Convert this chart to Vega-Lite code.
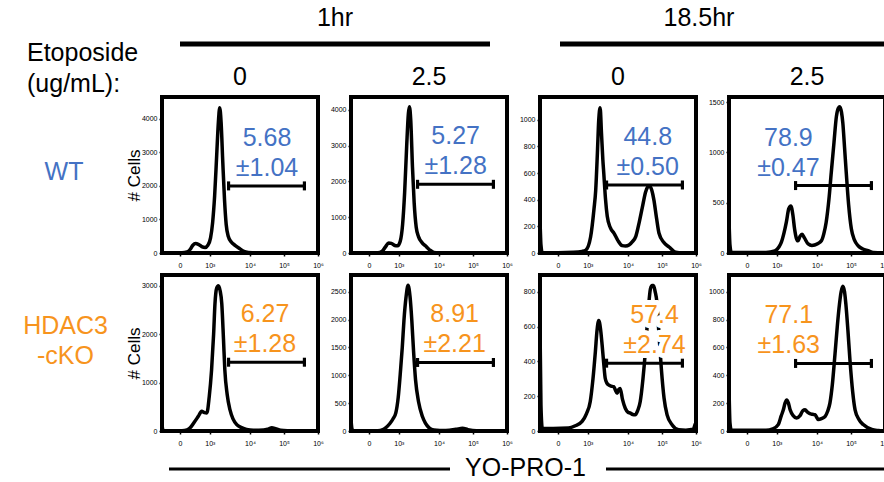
{
"$schema": "https://vega.github.io/schema/vega-lite/v6.json",
"background": "white",
"padding": {"left": 15, "top": 5, "right": 0, "bottom": 0},
"config": {
  "font": "Liberation Sans",
  "view": {"stroke": null},
  "axis": {"grid": false, "domain": false, "labelFont": "Liberation Sans", "labelFontSize": 7, "labelColor": "black", "tickColor": "black", "tickSize": 3, "tickWidth": 1.5, "titleFont": "Liberation Sans", "titleFontWeight": "normal", "titleColor": "black"},
  "title": {"font": "Liberation Sans", "fontSize": 25, "fontWeight": "normal", "color": "black"},
  "text": {"font": "Liberation Sans"}
},
"datasets": {
  "hist": [
    {"p":"p1","u":1.412,"c":0},{"p":"p1","u":2.0,"c":5},{"p":"p1","u":2.15,"c":30},{"p":"p1","u":2.25,"c":120},{"p":"p1","u":2.32,"c":230},{"p":"p1","u":2.4,"c":280},{"p":"p1","u":2.48,"c":260},{"p":"p1","u":2.58,"c":190},{"p":"p1","u":2.68,"c":165},{"p":"p1","u":2.76,"c":230},{"p":"p1","u":2.84,"c":450},{"p":"p1","u":2.9,"c":900},{"p":"p1","u":2.96,"c":1700},{"p":"p1","u":3.02,"c":2900},{"p":"p1","u":3.07,"c":3900},{"p":"p1","u":3.11,"c":4330},{"p":"p1","u":3.15,"c":3900},{"p":"p1","u":3.2,"c":2700},{"p":"p1","u":3.25,"c":1600},{"p":"p1","u":3.3,"c":850},{"p":"p1","u":3.36,"c":500},{"p":"p1","u":3.45,"c":330},{"p":"p1","u":3.56,"c":230},{"p":"p1","u":3.68,"c":140},{"p":"p1","u":3.8,"c":60},{"p":"p1","u":3.95,"c":15},{"p":"p1","u":4.2,"c":0},{"p":"p1","u":6,"c":0},
    {"p":"p2","u":1.412,"c":0},{"p":"p2","u":2.2,"c":5},{"p":"p2","u":2.33,"c":50},{"p":"p2","u":2.43,"c":180},{"p":"p2","u":2.52,"c":280},{"p":"p2","u":2.6,"c":270},{"p":"p2","u":2.7,"c":210},{"p":"p2","u":2.78,"c":200},{"p":"p2","u":2.86,"c":330},{"p":"p2","u":2.93,"c":800},{"p":"p2","u":2.99,"c":1700},{"p":"p2","u":3.05,"c":3000},{"p":"p2","u":3.1,"c":3900},{"p":"p2","u":3.13,"c":4090},{"p":"p2","u":3.17,"c":3700},{"p":"p2","u":3.22,"c":2400},{"p":"p2","u":3.27,"c":1400},{"p":"p2","u":3.33,"c":720},{"p":"p2","u":3.4,"c":450},{"p":"p2","u":3.5,"c":290},{"p":"p2","u":3.6,"c":200},{"p":"p2","u":3.72,"c":90},{"p":"p2","u":3.85,"c":15},{"p":"p2","u":4.1,"c":0},{"p":"p2","u":6,"c":0},
    {"p":"p3","u":1.415,"c":230},{"p":"p3","u":1.44,"c":60},{"p":"p3","u":1.48,"c":0},{"p":"p3","u":2.4,"c":5},{"p":"p3","u":2.65,"c":12},{"p":"p3","u":2.76,"c":22},{"p":"p3","u":2.9,"c":120},{"p":"p3","u":3.0,"c":330},{"p":"p3","u":3.05,"c":470},{"p":"p3","u":3.1,"c":750},{"p":"p3","u":3.14,"c":1000},{"p":"p3","u":3.18,"c":1090},{"p":"p3","u":3.22,"c":900},{"p":"p3","u":3.26,"c":700},{"p":"p3","u":3.29,"c":590},{"p":"p3","u":3.34,"c":400},{"p":"p3","u":3.39,"c":275},{"p":"p3","u":3.48,"c":190},{"p":"p3","u":3.59,"c":148},{"p":"p3","u":3.7,"c":95},{"p":"p3","u":3.83,"c":55},{"p":"p3","u":3.93,"c":52},{"p":"p3","u":4.03,"c":60},{"p":"p3","u":4.13,"c":85},{"p":"p3","u":4.23,"c":125},{"p":"p3","u":4.33,"c":230},{"p":"p3","u":4.42,"c":340},{"p":"p3","u":4.52,"c":460},{"p":"p3","u":4.62,"c":504},{"p":"p3","u":4.7,"c":470},{"p":"p3","u":4.76,"c":400},{"p":"p3","u":4.84,"c":260},{"p":"p3","u":4.91,"c":150},{"p":"p3","u":5.05,"c":80},{"p":"p3","u":5.21,"c":45},{"p":"p3","u":5.4,"c":5},{"p":"p3","u":5.6,"c":0},{"p":"p3","u":6,"c":0},
    {"p":"p4","u":1.415,"c":300},{"p":"p4","u":1.44,"c":80},{"p":"p4","u":1.48,"c":5},{"p":"p4","u":2.5,"c":5},{"p":"p4","u":2.76,"c":20},{"p":"p4","u":2.88,"c":60},{"p":"p4","u":2.95,"c":105},{"p":"p4","u":3.03,"c":200},{"p":"p4","u":3.1,"c":310},{"p":"p4","u":3.17,"c":440},{"p":"p4","u":3.23,"c":467},{"p":"p4","u":3.29,"c":380},{"p":"p4","u":3.34,"c":240},{"p":"p4","u":3.39,"c":150},{"p":"p4","u":3.44,"c":121},{"p":"p4","u":3.5,"c":165},{"p":"p4","u":3.56,"c":187},{"p":"p4","u":3.63,"c":150},{"p":"p4","u":3.74,"c":90},{"p":"p4","u":3.85,"c":75},{"p":"p4","u":3.93,"c":79},{"p":"p4","u":4.03,"c":95},{"p":"p4","u":4.13,"c":121},{"p":"p4","u":4.2,"c":190},{"p":"p4","u":4.27,"c":306},{"p":"p4","u":4.35,"c":530},{"p":"p4","u":4.42,"c":800},{"p":"p4","u":4.5,"c":1100},{"p":"p4","u":4.57,"c":1355},{"p":"p4","u":4.63,"c":1440},{"p":"p4","u":4.67,"c":1454},{"p":"p4","u":4.72,"c":1400},{"p":"p4","u":4.76,"c":1290},{"p":"p4","u":4.81,"c":1050},{"p":"p4","u":4.86,"c":800},{"p":"p4","u":4.93,"c":480},{"p":"p4","u":5.01,"c":240},{"p":"p4","u":5.1,"c":130},{"p":"p4","u":5.21,"c":72},{"p":"p4","u":5.35,"c":40},{"p":"p4","u":5.5,"c":23},{"p":"p4","u":5.65,"c":5},{"p":"p4","u":6,"c":0},
    {"p":"p5","u":1.415,"c":100},{"p":"p5","u":1.44,"c":20},{"p":"p5","u":1.48,"c":0},{"p":"p5","u":2.0,"c":5},{"p":"p5","u":2.15,"c":25},{"p":"p5","u":2.24,"c":65},{"p":"p5","u":2.36,"c":180},{"p":"p5","u":2.48,"c":303},{"p":"p5","u":2.58,"c":406},{"p":"p5","u":2.66,"c":380},{"p":"p5","u":2.73,"c":373},{"p":"p5","u":2.8,"c":700},{"p":"p5","u":2.87,"c":1260},{"p":"p5","u":2.93,"c":2000},{"p":"p5","u":2.97,"c":2630},{"p":"p5","u":3.02,"c":2950},{"p":"p5","u":3.07,"c":3000},{"p":"p5","u":3.12,"c":2900},{"p":"p5","u":3.17,"c":2630},{"p":"p5","u":3.22,"c":1900},{"p":"p5","u":3.26,"c":1260},{"p":"p5","u":3.33,"c":750},{"p":"p5","u":3.41,"c":440},{"p":"p5","u":3.5,"c":250},{"p":"p5","u":3.61,"c":133},{"p":"p5","u":3.75,"c":70},{"p":"p5","u":3.9,"c":30},{"p":"p5","u":4.1,"c":15},{"p":"p5","u":4.4,"c":20},{"p":"p5","u":4.55,"c":45},{"p":"p5","u":4.64,"c":65},{"p":"p5","u":4.75,"c":50},{"p":"p5","u":4.9,"c":15},{"p":"p5","u":5.1,"c":5},{"p":"p5","u":6,"c":0},
    {"p":"p6","u":1.415,"c":180},{"p":"p6","u":1.44,"c":40},{"p":"p6","u":1.48,"c":0},{"p":"p6","u":2.2,"c":5},{"p":"p6","u":2.35,"c":25},{"p":"p6","u":2.43,"c":57},{"p":"p6","u":2.55,"c":130},{"p":"p6","u":2.65,"c":220},{"p":"p6","u":2.73,"c":325},{"p":"p6","u":2.8,"c":600},{"p":"p6","u":2.87,"c":1098},{"p":"p6","u":2.92,"c":1500},{"p":"p6","u":2.97,"c":1991},{"p":"p6","u":3.03,"c":2400},{"p":"p6","u":3.09,"c":2616},{"p":"p6","u":3.15,"c":2400},{"p":"p6","u":3.2,"c":1991},{"p":"p6","u":3.25,"c":1450},{"p":"p6","u":3.31,"c":920},{"p":"p6","u":3.4,"c":520},{"p":"p6","u":3.51,"c":264},{"p":"p6","u":3.6,"c":140},{"p":"p6","u":3.71,"c":57},{"p":"p6","u":3.85,"c":20},{"p":"p6","u":4.2,"c":10},{"p":"p6","u":4.5,"c":30},{"p":"p6","u":4.69,"c":50},{"p":"p6","u":4.85,"c":25},{"p":"p6","u":5.1,"c":5},{"p":"p6","u":6,"c":0},
    {"p":"p7","u":1.415,"c":550},{"p":"p7","u":1.44,"c":150},{"p":"p7","u":1.48,"c":15},{"p":"p7","u":1.8,"c":15},{"p":"p7","u":2.25,"c":17},{"p":"p7","u":2.45,"c":30},{"p":"p7","u":2.65,"c":55},{"p":"p7","u":2.78,"c":100},{"p":"p7","u":2.89,"c":170},{"p":"p7","u":2.97,"c":300},{"p":"p7","u":3.04,"c":455},{"p":"p7","u":3.09,"c":580},{"p":"p7","u":3.14,"c":636},{"p":"p7","u":3.19,"c":590},{"p":"p7","u":3.24,"c":493},{"p":"p7","u":3.29,"c":380},{"p":"p7","u":3.33,"c":303},{"p":"p7","u":3.38,"c":275},{"p":"p7","u":3.43,"c":265},{"p":"p7","u":3.5,"c":258},{"p":"p7","u":3.58,"c":255},{"p":"p7","u":3.63,"c":235},{"p":"p7","u":3.68,"c":217},{"p":"p7","u":3.73,"c":240},{"p":"p7","u":3.77,"c":245},{"p":"p7","u":3.84,"c":180},{"p":"p7","u":3.92,"c":131},{"p":"p7","u":4.0,"c":108},{"p":"p7","u":4.07,"c":103},{"p":"p7","u":4.14,"c":95},{"p":"p7","u":4.21,"c":93},{"p":"p7","u":4.29,"c":120},{"p":"p7","u":4.36,"c":170},{"p":"p7","u":4.44,"c":300},{"p":"p7","u":4.51,"c":455},{"p":"p7","u":4.58,"c":650},{"p":"p7","u":4.66,"c":817},{"p":"p7","u":4.71,"c":836},{"p":"p7","u":4.75,"c":836},{"p":"p7","u":4.8,"c":800},{"p":"p7","u":4.85,"c":741},{"p":"p7","u":4.91,"c":560},{"p":"p7","u":4.98,"c":360},{"p":"p7","u":5.06,"c":190},{"p":"p7","u":5.15,"c":93},{"p":"p7","u":5.3,"c":35},{"p":"p7","u":5.49,"c":7},{"p":"p7","u":5.7,"c":5},{"p":"p7","u":5.92,"c":10},{"p":"p7","u":5.98,"c":40},{"p":"p7","u":6,"c":45},
    {"p":"p8","u":1.415,"c":280},{"p":"p8","u":1.44,"c":60},{"p":"p8","u":1.48,"c":5},{"p":"p8","u":2.5,"c":5},{"p":"p8","u":2.7,"c":15},{"p":"p8","u":2.86,"c":46},{"p":"p8","u":2.95,"c":110},{"p":"p8","u":3.01,"c":152},{"p":"p8","u":3.06,"c":200},{"p":"p8","u":3.11,"c":223},{"p":"p8","u":3.16,"c":200},{"p":"p8","u":3.21,"c":152},{"p":"p8","u":3.3,"c":110},{"p":"p8","u":3.4,"c":94},{"p":"p8","u":3.5,"c":110},{"p":"p8","u":3.58,"c":145},{"p":"p8","u":3.65,"c":152},{"p":"p8","u":3.72,"c":135},{"p":"p8","u":3.79,"c":124},{"p":"p8","u":3.87,"c":120},{"p":"p8","u":3.94,"c":117},{"p":"p8","u":4.04,"c":82},{"p":"p8","u":4.14,"c":90},{"p":"p8","u":4.24,"c":105},{"p":"p8","u":4.31,"c":140},{"p":"p8","u":4.38,"c":200},{"p":"p8","u":4.45,"c":330},{"p":"p8","u":4.53,"c":554},{"p":"p8","u":4.6,"c":760},{"p":"p8","u":4.66,"c":909},{"p":"p8","u":4.71,"c":1000},{"p":"p8","u":4.76,"c":1039},{"p":"p8","u":4.81,"c":1000},{"p":"p8","u":4.85,"c":909},{"p":"p8","u":4.91,"c":720},{"p":"p8","u":4.97,"c":507},{"p":"p8","u":5.05,"c":280},{"p":"p8","u":5.12,"c":152},{"p":"p8","u":5.24,"c":80},{"p":"p8","u":5.36,"c":46},{"p":"p8","u":5.61,"c":11},{"p":"p8","u":5.8,"c":3},{"p":"p8","u":6,"c":0}
  ],
  "stats": [
    {"p":"p1","pct":"5.68","sd":"±1.04","lo":3.37,"hi":5.6,"gate":2000,"at":4.5},
    {"p":"p2","pct":"5.27","sd":"±1.28","lo":3.37,"hi":5.6,"gate":1920,"at":4.49},
    {"p":"p3","pct":"44.8","sd":"±0.50","lo":3.37,"hi":5.6,"gate":510,"at":4.58},
    {"p":"p4","pct":"78.9","sd":"±0.47","lo":3.37,"hi":5.6,"gate":670,"at":3.16},
    {"p":"p5","pct":"6.27","sd":"±1.28","lo":3.37,"hi":5.6,"gate":1420,"at":4.44},
    {"p":"p6","pct":"8.91","sd":"±2.21","lo":3.37,"hi":5.6,"gate":1230,"at":4.46},
    {"p":"p7","pct":"57.4","sd":"±2.74","lo":3.37,"hi":5.6,"gate":390,"at":4.78},
    {"p":"p8","pct":"77.1","sd":"±1.63","lo":3.37,"hi":5.6,"gate":485,"at":3.17}
  ]
},
"spacing": -37,
"vconcat": [
  {"bounds": "flush", "spacing": 70, "hconcat": [
    {"width": 95, "height": 2, "view": {"fill": "transparent", "stroke": null}, "data": {"values": [{"label": "Etoposide\n(ug/mL):"}]},
     "mark": {"type": "text", "align": "left", "baseline": "middle", "fontSize": 25, "lineBreak": "\n", "lineHeight": 31, "dx": -35.5, "dy": 9, "color": "black"},
     "encoding": {"text": {"field": "label"}}},
    {"width": 310, "height": 2, "title": {"text": "1hr", "offset": 11}, "data": {"values": [{"from": 0, "to": 1}]},
     "mark": {"type": "rule", "strokeWidth": 5, "color": "black"},
     "encoding": {"x": {"field": "from", "type": "quantitative", "scale": {"domain": [0, 1]}, "axis": null}, "x2": {"field": "to"}, "y": {"datum": 0.5, "type": "quantitative", "scale": {"domain": [0, 1]}, "axis": null}}},
    {"width": 330, "height": 2, "title": {"text": "18.5hr", "offset": 11, "dx": -26}, "data": {"values": [{"from": 0, "to": 1}]},
     "mark": {"type": "rule", "strokeWidth": 5, "color": "black"},
     "encoding": {"x": {"field": "from", "type": "quantitative", "scale": {"domain": [0, 1]}, "axis": null}, "x2": {"field": "to"}, "y": {"datum": 0.5, "type": "quantitative", "scale": {"domain": [0, 1]}, "axis": null}}}
  ]},
  {"spacing": 3, "vconcat": [
    {"bounds": "flush", "spacing": 33, "hconcat": [
      {"width": 114, "height": 156, "view": {"fill": "transparent", "stroke": null}, "data": {"values": [{"label": "WT"}]},
       "mark": {"type": "text", "fontSize": 25, "color": "#4472C4", "dx": -8, "dy": -3},
       "encoding": {"text": {"field": "label"}}},
      {"width": 156, "height": 156, "view": {"stroke": "black", "strokeWidth": 4}, "title": {"text": "0", "offset": 7},
       "resolve": {"axis": {"x": "independent", "y": "independent"}},
       "layer": [
        {"data": {"name": "hist"}, "transform": [{"filter": "datum.p === 'p1'"}],
         "mark": {"type": "line", "color": "black", "strokeWidth": 3.5, "interpolate": "monotone", "strokeJoin": "round"},
         "encoding": {"x": {"field": "u", "type": "quantitative", "scale": {"domain": [1.412, 6], "nice": false}, "axis": {"values": [1.94, 2.82, 4, 5, 6], "labelExpr": "datum.value < 2 ? '0' : datum.value < 3 ? '10³' : datum.value < 4.5 ? '10⁴' : datum.value < 5.5 ? '10⁵' : '10⁶'", "labelFlush": false, "labelPadding": 5, "title": null}},
                      "y": {"field": "c", "type": "quantitative", "scale": {"domain": [0, 4650], "nice": false}, "axis": {"values": [0, 1000, 2000, 3000, 4000], "format": "d", "title": "# Cells", "titleFontSize": 17, "titlePadding": -2}}}},
        {"data": {"name": "stats"}, "transform": [{"filter": "datum.p === 'p1'"}],
         "mark": {"type": "rule", "color": "black", "strokeWidth": 3},
         "encoding": {"x": {"field": "lo", "type": "quantitative", "axis": null}, "x2": {"field": "hi"}, "y": {"field": "gate", "type": "quantitative", "axis": null}}},
        {"data": {"name": "stats"}, "transform": [{"filter": "datum.p === 'p1'"}, {"fold": ["lo", "hi"], "as": ["end", "pos"]}],
         "mark": {"type": "point", "shape": "M-0.35,-1H0.35V1H-0.35Z", "filled": true, "color": "black", "size": 81, "opacity": 1},
         "encoding": {"x": {"field": "pos", "type": "quantitative", "axis": null}, "y": {"field": "gate", "type": "quantitative", "axis": null}}},
        {"data": {"name": "stats"}, "transform": [{"filter": "datum.p === 'p1'"}],
         "mark": {"type": "text", "fontSize": 25, "color": "#4472C4", "dy": -48},
         "encoding": {"x": {"field": "at", "type": "quantitative", "axis": null}, "y": {"field": "gate", "type": "quantitative", "axis": null}, "text": {"field": "pct"}}},
        {"data": {"name": "stats"}, "transform": [{"filter": "datum.p === 'p1'"}],
         "mark": {"type": "text", "fontSize": 25, "color": "#4472C4", "dy": -18},
         "encoding": {"x": {"field": "at", "type": "quantitative", "axis": null}, "y": {"field": "gate", "type": "quantitative", "axis": null}, "text": {"field": "sd"}}}
       ]},
      {"width": 156, "height": 156, "view": {"stroke": "black", "strokeWidth": 4}, "title": {"text": "2.5", "offset": 7},
       "resolve": {"axis": {"x": "independent", "y": "independent"}},
       "layer": [
        {"data": {"name": "hist"}, "transform": [{"filter": "datum.p === 'p2'"}],
         "mark": {"type": "line", "color": "black", "strokeWidth": 3.5, "interpolate": "monotone", "strokeJoin": "round"},
         "encoding": {"x": {"field": "u", "type": "quantitative", "scale": {"domain": [1.412, 6], "nice": false}, "axis": {"values": [1.94, 2.82, 4, 5, 6], "labelExpr": "datum.value < 2 ? '0' : datum.value < 3 ? '10³' : datum.value < 4.5 ? '10⁴' : datum.value < 5.5 ? '10⁵' : '10⁶'", "labelFlush": false, "labelPadding": 5, "title": null}},
                      "y": {"field": "c", "type": "quantitative", "scale": {"domain": [0, 4360], "nice": false}, "axis": {"values": [0, 1000, 2000, 3000, 4000], "format": "d", "title": null}}}},
        {"data": {"name": "stats"}, "transform": [{"filter": "datum.p === 'p2'"}],
         "mark": {"type": "rule", "color": "black", "strokeWidth": 3},
         "encoding": {"x": {"field": "lo", "type": "quantitative", "axis": null}, "x2": {"field": "hi"}, "y": {"field": "gate", "type": "quantitative", "axis": null}}},
        {"data": {"name": "stats"}, "transform": [{"filter": "datum.p === 'p2'"}, {"fold": ["lo", "hi"], "as": ["end", "pos"]}],
         "mark": {"type": "point", "shape": "M-0.35,-1H0.35V1H-0.35Z", "filled": true, "color": "black", "size": 81, "opacity": 1},
         "encoding": {"x": {"field": "pos", "type": "quantitative", "axis": null}, "y": {"field": "gate", "type": "quantitative", "axis": null}}},
        {"data": {"name": "stats"}, "transform": [{"filter": "datum.p === 'p2'"}],
         "mark": {"type": "text", "fontSize": 25, "color": "#4472C4", "dy": -48},
         "encoding": {"x": {"field": "at", "type": "quantitative", "axis": null}, "y": {"field": "gate", "type": "quantitative", "axis": null}, "text": {"field": "pct"}}},
        {"data": {"name": "stats"}, "transform": [{"filter": "datum.p === 'p2'"}],
         "mark": {"type": "text", "fontSize": 25, "color": "#4472C4", "dy": -18},
         "encoding": {"x": {"field": "at", "type": "quantitative", "axis": null}, "y": {"field": "gate", "type": "quantitative", "axis": null}, "text": {"field": "sd"}}}
       ]},
      {"width": 156, "height": 156, "view": {"stroke": "black", "strokeWidth": 4}, "title": {"text": "0", "offset": 7},
       "resolve": {"axis": {"x": "independent", "y": "independent"}},
       "layer": [
        {"data": {"name": "hist"}, "transform": [{"filter": "datum.p === 'p3'"}],
         "mark": {"type": "line", "color": "black", "strokeWidth": 3.5, "interpolate": "monotone", "strokeJoin": "round"},
         "encoding": {"x": {"field": "u", "type": "quantitative", "scale": {"domain": [1.412, 6], "nice": false}, "axis": {"values": [1.94, 2.82, 4, 5, 6], "labelExpr": "datum.value < 2 ? '0' : datum.value < 3 ? '10³' : datum.value < 4.5 ? '10⁴' : datum.value < 5.5 ? '10⁵' : '10⁶'", "labelFlush": false, "labelPadding": 5, "title": null}},
                      "y": {"field": "c", "type": "quantitative", "scale": {"domain": [0, 1170], "nice": false}, "axis": {"values": [0, 200, 400, 600, 800, 1000], "format": "d", "title": null}}}},
        {"data": {"name": "stats"}, "transform": [{"filter": "datum.p === 'p3'"}],
         "mark": {"type": "rule", "color": "black", "strokeWidth": 3},
         "encoding": {"x": {"field": "lo", "type": "quantitative", "axis": null}, "x2": {"field": "hi"}, "y": {"field": "gate", "type": "quantitative", "axis": null}}},
        {"data": {"name": "stats"}, "transform": [{"filter": "datum.p === 'p3'"}, {"fold": ["lo", "hi"], "as": ["end", "pos"]}],
         "mark": {"type": "point", "shape": "M-0.35,-1H0.35V1H-0.35Z", "filled": true, "color": "black", "size": 81, "opacity": 1},
         "encoding": {"x": {"field": "pos", "type": "quantitative", "axis": null}, "y": {"field": "gate", "type": "quantitative", "axis": null}}},
        {"data": {"name": "stats"}, "transform": [{"filter": "datum.p === 'p3'"}],
         "mark": {"type": "text", "fontSize": 25, "color": "#4472C4", "dy": -48},
         "encoding": {"x": {"field": "at", "type": "quantitative", "axis": null}, "y": {"field": "gate", "type": "quantitative", "axis": null}, "text": {"field": "pct"}}},
        {"data": {"name": "stats"}, "transform": [{"filter": "datum.p === 'p3'"}],
         "mark": {"type": "text", "fontSize": 25, "color": "#4472C4", "dy": -18},
         "encoding": {"x": {"field": "at", "type": "quantitative", "axis": null}, "y": {"field": "gate", "type": "quantitative", "axis": null}, "text": {"field": "sd"}}}
       ]},
      {"width": 156, "height": 156, "view": {"stroke": "black", "strokeWidth": 4}, "title": {"text": "2.5", "offset": 7},
       "resolve": {"axis": {"x": "independent", "y": "independent"}},
       "layer": [
        {"data": {"name": "hist"}, "transform": [{"filter": "datum.p === 'p4'"}],
         "mark": {"type": "line", "color": "black", "strokeWidth": 3.5, "interpolate": "monotone", "strokeJoin": "round"},
         "encoding": {"x": {"field": "u", "type": "quantitative", "scale": {"domain": [1.412, 6], "nice": false}, "axis": {"values": [1.94, 2.82, 4, 5, 6], "labelExpr": "datum.value < 2 ? '0' : datum.value < 3 ? '10³' : datum.value < 4.5 ? '10⁴' : datum.value < 5.5 ? '10⁵' : '10⁶'", "labelFlush": false, "labelPadding": 5, "title": null}},
                      "y": {"field": "c", "type": "quantitative", "scale": {"domain": [0, 1550], "nice": false}, "axis": {"values": [0, 500, 1000, 1500], "format": "d", "title": null}}}},
        {"data": {"name": "stats"}, "transform": [{"filter": "datum.p === 'p4'"}],
         "mark": {"type": "rule", "color": "black", "strokeWidth": 3},
         "encoding": {"x": {"field": "lo", "type": "quantitative", "axis": null}, "x2": {"field": "hi"}, "y": {"field": "gate", "type": "quantitative", "axis": null}}},
        {"data": {"name": "stats"}, "transform": [{"filter": "datum.p === 'p4'"}, {"fold": ["lo", "hi"], "as": ["end", "pos"]}],
         "mark": {"type": "point", "shape": "M-0.35,-1H0.35V1H-0.35Z", "filled": true, "color": "black", "size": 81, "opacity": 1},
         "encoding": {"x": {"field": "pos", "type": "quantitative", "axis": null}, "y": {"field": "gate", "type": "quantitative", "axis": null}}},
        {"data": {"name": "stats"}, "transform": [{"filter": "datum.p === 'p4'"}],
         "mark": {"type": "text", "fontSize": 25, "color": "#4472C4", "dy": -48},
         "encoding": {"x": {"field": "at", "type": "quantitative", "axis": null}, "y": {"field": "gate", "type": "quantitative", "axis": null}, "text": {"field": "pct"}}},
        {"data": {"name": "stats"}, "transform": [{"filter": "datum.p === 'p4'"}],
         "mark": {"type": "text", "fontSize": 25, "color": "#4472C4", "dy": -18},
         "encoding": {"x": {"field": "at", "type": "quantitative", "axis": null}, "y": {"field": "gate", "type": "quantitative", "axis": null}, "text": {"field": "sd"}}}
       ]}
    ]},
    {"spacing": 7, "vconcat": [
      {"bounds": "flush", "spacing": 33, "hconcat": [
        {"width": 114, "height": 156, "view": {"fill": "transparent", "stroke": null}, "data": {"values": [{"label": "HDAC3\n-cKO"}]},
         "mark": {"type": "text", "fontSize": 25, "color": "#F7941D", "dx": -6.5, "dy": -27, "lineBreak": "\n", "lineHeight": 30},
         "encoding": {"text": {"field": "label"}}},
        {"width": 156, "height": 156, "view": {"stroke": "black", "strokeWidth": 4},
         "resolve": {"axis": {"x": "independent", "y": "independent"}},
         "layer": [
          {"data": {"name": "hist"}, "transform": [{"filter": "datum.p === 'p5'"}],
           "mark": {"type": "line", "color": "black", "strokeWidth": 3.5, "interpolate": "monotone", "strokeJoin": "round"},
           "encoding": {"x": {"field": "u", "type": "quantitative", "scale": {"domain": [1.412, 6], "nice": false}, "axis": {"values": [1.94, 2.82, 4, 5, 6], "labelExpr": "datum.value < 2 ? '0' : datum.value < 3 ? '10³' : datum.value < 4.5 ? '10⁴' : datum.value < 5.5 ? '10⁵' : '10⁶'", "labelFlush": false, "labelPadding": 5, "title": null}},
                        "y": {"field": "c", "type": "quantitative", "scale": {"domain": [0, 3220], "nice": false}, "axis": {"values": [0, 1000, 2000, 3000], "format": "d", "title": "# Cells", "titleFontSize": 17, "titlePadding": -2}}}},
          {"data": {"name": "stats"}, "transform": [{"filter": "datum.p === 'p5'"}],
           "mark": {"type": "rule", "color": "black", "strokeWidth": 3},
           "encoding": {"x": {"field": "lo", "type": "quantitative", "axis": null}, "x2": {"field": "hi"}, "y": {"field": "gate", "type": "quantitative", "axis": null}}},
          {"data": {"name": "stats"}, "transform": [{"filter": "datum.p === 'p5'"}, {"fold": ["lo", "hi"], "as": ["end", "pos"]}],
           "mark": {"type": "point", "shape": "M-0.35,-1H0.35V1H-0.35Z", "filled": true, "color": "black", "size": 81, "opacity": 1},
           "encoding": {"x": {"field": "pos", "type": "quantitative", "axis": null}, "y": {"field": "gate", "type": "quantitative", "axis": null}}},
          {"data": {"name": "stats"}, "transform": [{"filter": "datum.p === 'p5'"}],
           "mark": {"type": "text", "fontSize": 25, "color": "#F7941D", "dy": -48},
           "encoding": {"x": {"field": "at", "type": "quantitative", "axis": null}, "y": {"field": "gate", "type": "quantitative", "axis": null}, "text": {"field": "pct"}}},
          {"data": {"name": "stats"}, "transform": [{"filter": "datum.p === 'p5'"}],
           "mark": {"type": "text", "fontSize": 25, "color": "#F7941D", "dy": -18},
           "encoding": {"x": {"field": "at", "type": "quantitative", "axis": null}, "y": {"field": "gate", "type": "quantitative", "axis": null}, "text": {"field": "sd"}}}
         ]},
        {"width": 156, "height": 156, "view": {"stroke": "black", "strokeWidth": 4},
         "resolve": {"axis": {"x": "independent", "y": "independent"}},
         "layer": [
          {"data": {"name": "hist"}, "transform": [{"filter": "datum.p === 'p6'"}],
           "mark": {"type": "line", "color": "black", "strokeWidth": 3.5, "interpolate": "monotone", "strokeJoin": "round"},
           "encoding": {"x": {"field": "u", "type": "quantitative", "scale": {"domain": [1.412, 6], "nice": false}, "axis": {"values": [1.94, 2.82, 4, 5, 6], "labelExpr": "datum.value < 2 ? '0' : datum.value < 3 ? '10³' : datum.value < 4.5 ? '10⁴' : datum.value < 5.5 ? '10⁵' : '10⁶'", "labelFlush": false, "labelPadding": 5, "title": null}},
                        "y": {"field": "c", "type": "quantitative", "scale": {"domain": [0, 2800], "nice": false}, "axis": {"values": [0, 500, 1000, 1500, 2000, 2500], "format": "d", "title": null}}}},
          {"data": {"name": "stats"}, "transform": [{"filter": "datum.p === 'p6'"}],
           "mark": {"type": "rule", "color": "black", "strokeWidth": 3},
           "encoding": {"x": {"field": "lo", "type": "quantitative", "axis": null}, "x2": {"field": "hi"}, "y": {"field": "gate", "type": "quantitative", "axis": null}}},
          {"data": {"name": "stats"}, "transform": [{"filter": "datum.p === 'p6'"}, {"fold": ["lo", "hi"], "as": ["end", "pos"]}],
           "mark": {"type": "point", "shape": "M-0.35,-1H0.35V1H-0.35Z", "filled": true, "color": "black", "size": 81, "opacity": 1},
           "encoding": {"x": {"field": "pos", "type": "quantitative", "axis": null}, "y": {"field": "gate", "type": "quantitative", "axis": null}}},
          {"data": {"name": "stats"}, "transform": [{"filter": "datum.p === 'p6'"}],
           "mark": {"type": "text", "fontSize": 25, "color": "#F7941D", "dy": -48},
           "encoding": {"x": {"field": "at", "type": "quantitative", "axis": null}, "y": {"field": "gate", "type": "quantitative", "axis": null}, "text": {"field": "pct"}}},
          {"data": {"name": "stats"}, "transform": [{"filter": "datum.p === 'p6'"}],
           "mark": {"type": "text", "fontSize": 25, "color": "#F7941D", "dy": -18},
           "encoding": {"x": {"field": "at", "type": "quantitative", "axis": null}, "y": {"field": "gate", "type": "quantitative", "axis": null}, "text": {"field": "sd"}}}
         ]},
        {"width": 156, "height": 156, "view": {"stroke": "black", "strokeWidth": 4},
         "resolve": {"axis": {"x": "independent", "y": "independent"}},
         "layer": [
          {"data": {"name": "hist"}, "transform": [{"filter": "datum.p === 'p7'"}],
           "mark": {"type": "line", "color": "black", "strokeWidth": 3.5, "interpolate": "monotone", "strokeJoin": "round"},
           "encoding": {"x": {"field": "u", "type": "quantitative", "scale": {"domain": [1.412, 6], "nice": false}, "axis": {"values": [1.94, 2.82, 4, 5, 6], "labelExpr": "datum.value < 2 ? '0' : datum.value < 3 ? '10³' : datum.value < 4.5 ? '10⁴' : datum.value < 5.5 ? '10⁵' : '10⁶'", "labelFlush": false, "labelPadding": 5, "title": null}},
                        "y": {"field": "c", "type": "quantitative", "scale": {"domain": [0, 897], "nice": false}, "axis": {"values": [0, 200, 400, 600, 800], "format": "d", "title": null}}}},
          {"data": {"name": "stats"}, "transform": [{"filter": "datum.p === 'p7'"}],
           "mark": {"type": "rule", "color": "black", "strokeWidth": 3},
           "encoding": {"x": {"field": "lo", "type": "quantitative", "axis": null}, "x2": {"field": "hi"}, "y": {"field": "gate", "type": "quantitative", "axis": null}}},
          {"data": {"name": "stats"}, "transform": [{"filter": "datum.p === 'p7'"}, {"fold": ["lo", "hi"], "as": ["end", "pos"]}],
           "mark": {"type": "point", "shape": "M-0.35,-1H0.35V1H-0.35Z", "filled": true, "color": "black", "size": 81, "opacity": 1},
           "encoding": {"x": {"field": "pos", "type": "quantitative", "axis": null}, "y": {"field": "gate", "type": "quantitative", "axis": null}}},
          {"data": {"name": "stats"}, "transform": [{"filter": "datum.p === 'p7'"}],
           "mark": {"type": "text", "fontSize": 25, "color": "white", "stroke": "white", "strokeWidth": 10, "strokeJoin": "round", "dy": -48},
           "encoding": {"x": {"field": "at", "type": "quantitative", "axis": null}, "y": {"field": "gate", "type": "quantitative", "axis": null}, "text": {"field": "pct"}}},
          {"data": {"name": "stats"}, "transform": [{"filter": "datum.p === 'p7'"}],
           "mark": {"type": "text", "fontSize": 25, "color": "white", "stroke": "white", "strokeWidth": 10, "strokeJoin": "round", "dy": -18},
           "encoding": {"x": {"field": "at", "type": "quantitative", "axis": null}, "y": {"field": "gate", "type": "quantitative", "axis": null}, "text": {"field": "sd"}}},
          {"data": {"name": "stats"}, "transform": [{"filter": "datum.p === 'p7'"}],
           "mark": {"type": "text", "fontSize": 25, "color": "#F7941D", "dy": -48},
           "encoding": {"x": {"field": "at", "type": "quantitative", "axis": null}, "y": {"field": "gate", "type": "quantitative", "axis": null}, "text": {"field": "pct"}}},
          {"data": {"name": "stats"}, "transform": [{"filter": "datum.p === 'p7'"}],
           "mark": {"type": "text", "fontSize": 25, "color": "#F7941D", "dy": -18},
           "encoding": {"x": {"field": "at", "type": "quantitative", "axis": null}, "y": {"field": "gate", "type": "quantitative", "axis": null}, "text": {"field": "sd"}}}
         ]},
        {"width": 156, "height": 156, "view": {"stroke": "black", "strokeWidth": 4},
         "resolve": {"axis": {"x": "independent", "y": "independent"}},
         "layer": [
          {"data": {"name": "hist"}, "transform": [{"filter": "datum.p === 'p8'"}],
           "mark": {"type": "line", "color": "black", "strokeWidth": 3.5, "interpolate": "monotone", "strokeJoin": "round"},
           "encoding": {"x": {"field": "u", "type": "quantitative", "scale": {"domain": [1.412, 6], "nice": false}, "axis": {"values": [1.94, 2.82, 4, 5, 6], "labelExpr": "datum.value < 2 ? '0' : datum.value < 3 ? '10³' : datum.value < 4.5 ? '10⁴' : datum.value < 5.5 ? '10⁵' : '10⁶'", "labelFlush": false, "labelPadding": 5, "title": null}},
                        "y": {"field": "c", "type": "quantitative", "scale": {"domain": [0, 1120], "nice": false}, "axis": {"values": [0, 200, 400, 600, 800, 1000], "format": "d", "title": null}}}},
          {"data": {"name": "stats"}, "transform": [{"filter": "datum.p === 'p8'"}],
           "mark": {"type": "rule", "color": "black", "strokeWidth": 3},
           "encoding": {"x": {"field": "lo", "type": "quantitative", "axis": null}, "x2": {"field": "hi"}, "y": {"field": "gate", "type": "quantitative", "axis": null}}},
          {"data": {"name": "stats"}, "transform": [{"filter": "datum.p === 'p8'"}, {"fold": ["lo", "hi"], "as": ["end", "pos"]}],
           "mark": {"type": "point", "shape": "M-0.35,-1H0.35V1H-0.35Z", "filled": true, "color": "black", "size": 81, "opacity": 1},
           "encoding": {"x": {"field": "pos", "type": "quantitative", "axis": null}, "y": {"field": "gate", "type": "quantitative", "axis": null}}},
          {"data": {"name": "stats"}, "transform": [{"filter": "datum.p === 'p8'"}],
           "mark": {"type": "text", "fontSize": 25, "color": "#F7941D", "dy": -48},
           "encoding": {"x": {"field": "at", "type": "quantitative", "axis": null}, "y": {"field": "gate", "type": "quantitative", "axis": null}, "text": {"field": "pct"}}},
          {"data": {"name": "stats"}, "transform": [{"filter": "datum.p === 'p8'"}],
           "mark": {"type": "text", "fontSize": 25, "color": "#F7941D", "dy": -18},
           "encoding": {"x": {"field": "at", "type": "quantitative", "axis": null}, "y": {"field": "gate", "type": "quantitative", "axis": null}, "text": {"field": "sd"}}}
         ]}
      ]},
      {"bounds": "flush", "spacing": 0, "hconcat": [
        {"width": 154, "height": 28, "view": {"fill": "transparent", "stroke": null}, "data": {"values": [{"label": ""}]}, "mark": {"type": "text"}, "encoding": {"text": {"field": "label"}}},
        {"width": 281, "height": 28, "data": {"values": [{"from": 0, "to": 1}]},
         "mark": {"type": "rule", "strokeWidth": 3, "color": "black"},
         "encoding": {"x": {"field": "from", "type": "quantitative", "scale": {"domain": [0, 1]}, "axis": null}, "x2": {"field": "to"}, "y": {"datum": 0.5, "type": "quantitative", "scale": {"domain": [0, 1]}, "axis": null}}},
        {"width": 156, "height": 28, "data": {"values": [{"label": "YO-PRO-1"}]},
         "mark": {"type": "text", "fontSize": 25, "color": "black", "dx": -2.5, "dy": -1},
         "encoding": {"text": {"field": "label"}}},
        {"width": 290, "height": 28, "data": {"values": [{"from": 0, "to": 1}]},
         "mark": {"type": "rule", "strokeWidth": 3, "color": "black"},
         "encoding": {"x": {"field": "from", "type": "quantitative", "scale": {"domain": [0, 1]}, "axis": null}, "x2": {"field": "to"}, "y": {"datum": 0.5, "type": "quantitative", "scale": {"domain": [0, 1]}, "axis": null}}}
      ]}
    ]}
  ]}
]
}
